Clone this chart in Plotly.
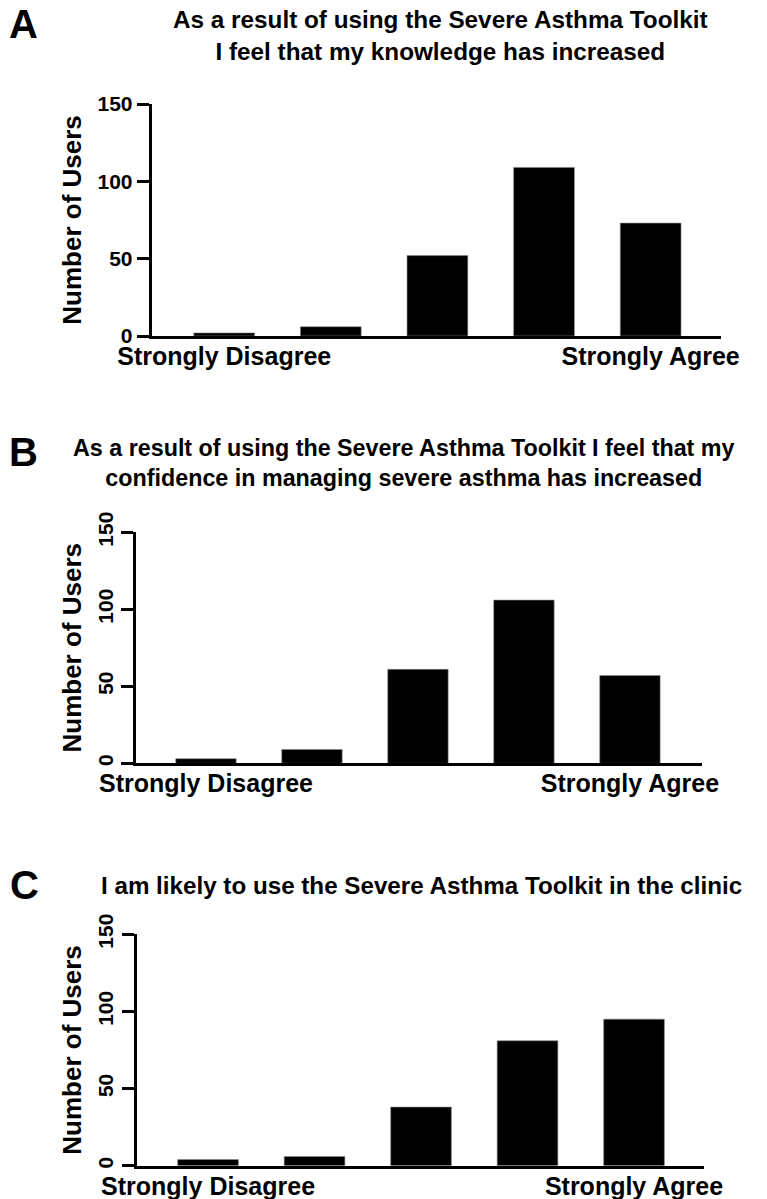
import plotly.graph_objects as go

W, H = 767, 1199
OFF = 8  # the page body margin shifts the figure by this much

responses = [1, 2, 3, 4, 5]
end_labels = ["Strongly Disagree", "Strongly Agree"]
knowledge = [2, 6, 52, 109, 73]
confidence = [3, 9, 61, 106, 57]
clinic = [4, 6, 38, 81, 95]

panel_letters = ["A", "B", "C"]
titles = [
    "As a result of using the Severe Asthma Toolkit<br>I feel that my knowledge has increased",
    "As a result of using the Severe Asthma Toolkit I feel that my<br>confidence in managing severe asthma has increased",
    "I am likely to use the Severe Asthma Toolkit in the clinic",
]
y_ticks = [0, 50, 100, 150]


def px_x(v):
    return (v - OFF) / W


def px_y(v):
    return 1 - (v - OFF) / H


# pixel boxes of the three plot areas: left, right, top, bottom
boxes = [
    (151.7, 721, 104, 336),
    (136, 702, 532.3, 763.3),
    (136.7, 704.3, 934.3, 1165.7),
]
xranges = [[0.32, 5.66], [0.34, 5.68], [0.33, 5.66]]
tick_angle = [0, -90, -90]
title_pos = [(440, 36, 24.3), (404, 463, 23.3), (422, 885, 24.2)]
letter_pos = [(23, 24), (23, 452), (24, 885)]

FONT = "Arial, Liberation Sans, sans-serif"

fig = go.Figure()
annotations = []
series = [knowledge, confidence, clinic]


def note(text, x, y, size, angle=0):
    return dict(
        text=text, textangle=angle, xref="paper", yref="paper",
        x=px_x(x), y=px_y(y), xanchor="center", yanchor="middle",
        showarrow=False, font=dict(family=FONT, size=size, color="black"),
    )


for i, vals in enumerate(series):
    n = "" if i == 0 else str(i + 1)
    fig.add_trace(go.Bar(
        x=responses, y=vals, width=0.57,
        marker=dict(color="black", line=dict(width=0.6, color="#888")),
        xaxis="x" + n, yaxis="y" + n, showlegend=False,
    ))
    l, r, t, b = boxes[i]
    fig.update_layout(**{
        "xaxis" + n: dict(
            domain=[px_x(l), px_x(r)], range=xranges[i], anchor="y" + n,
            showline=True, linewidth=3, linecolor="black", showgrid=False,
            zeroline=False, ticks="", tickvals=[1, 5], ticktext=end_labels,
            tickfont=dict(family=FONT, size=25, color="black", weight="bold"),
            ticklabelstandoff=-4, automargin=False, fixedrange=True,
        ),
        "yaxis" + n: dict(
            domain=[px_y(b), px_y(t)], range=[0, 150], anchor="x" + n,
            showline=True, linewidth=3, linecolor="black", showgrid=False,
            zeroline=False, ticks="outside", ticklen=12, tickwidth=3,
            tickcolor="black", tickvals=y_ticks, tickangle=tick_angle[i],
            tickfont=dict(family=FONT, size=21, color="black", weight="bold"),
            automargin=False, fixedrange=True,
        ),
    })
    annotations.append(note("<b>Number of Users</b>", 71.7, (t + b) / 2, 26, -90))
    tx, ty, ts = title_pos[i]
    annotations.append(note("<b>" + titles[i] + "</b>", tx, ty, ts))
    lx, ly = letter_pos[i]
    annotations.append(note("<b>" + panel_letters[i] + "</b>", lx, ly, 40))

fig.update_layout(
    width=W, height=H,
    margin=dict(l=0, r=0, t=0, b=0),
    paper_bgcolor="white", plot_bgcolor="white",
    font=dict(family=FONT, color="black"),
    annotations=annotations,
)

fig.write_html("out.html")
